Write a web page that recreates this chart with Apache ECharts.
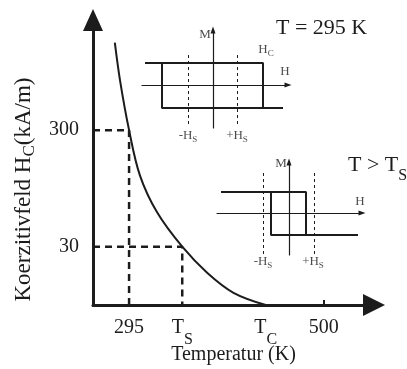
<!DOCTYPE html>
<html lang="de">
<head>
<meta charset="UTF-8">
<title>Koerzitivfeld</title>
<script src="https://cdn.jsdelivr.net/npm/echarts@6/dist/echarts.min.js"></script>
</head>
<body style="margin:0;background:#fff">
<div id="chart" style="width:407px;height:369px;"></div>
<script>
// main curve: temperature (K) vs. schematic level (1 = 30 kA/m, 3 = 300 kA/m)
const curveT = [280, 285.5, 295, 306.5, 324.5, 351, 377.5, 405, 439];
const curveH = [4.5, 3.85, 3.0, 2.22, 1.59, 1.0, 0.55, 0.21, 0];
const xTickValues = [295, 351, 439, 500];
const xTickLabels = ['295', '{t|T}{s|S}', '{t|T}{s|C}', '500'];
const yTickValues = [1, 3];
const yTickLabels = ['30', '300'];
const guide300 = [[257, 3], [295, 3], [295, 0]];
const guide30 = [[257, 1], [351, 1], [351, 0]];

// hysteresis loop at T = 295 K (H, M in arbitrary units)
const loop1H = [-68, 50, 50, 70, -51, -51];
const loop1M = [22, 22, -23, -23, -23, 22];
const hs1 = [-25, 24];
const hs1Span = [30, -42];
const labels1 = [[-8, 50, 'M'], [72, 13, 'H'], [53, 35, 'H{s|C}'], [-25, -51, '-H{s|S}'], [24, -51, '+H{s|S}']];

// hysteresis loop at T > T_S
const loop2H = [-68, 17, 17, 69, -18, -18];
const loop2M = [21, 21, -22, -22, -22, 21];
const hs2 = [-26, 25];
const hs2Span = [40, -42];
const labels2 = [[-8, 49, 'M'], [71, 11, 'H'], [-26, -49, '-H{s|S}'], [24, -49, '+H{s|S}']];

const ink = '#1c1c1c';
const serif = 'Liberation Serif';

function zip(a, b) { return a.map((v, i) => [v, b[i]]); }

function insetAxes(i, xr, yr) {
    const base = {
        gridIndex: i, type: 'value',
        axisLabel: { show: false }, axisTick: { show: false }, splitLine: { show: false },
        axisLine: { onZero: true, symbol: ['none', 'triangle'], symbolSize: [5, 7], lineStyle: { color: ink, width: 1.2 } }
    };
    return [
        Object.assign({ min: xr[0], max: xr[1] }, base),
        Object.assign({ min: yr[0], max: yr[1] }, base)
    ];
}

function loopSeries(i, h, m, hs, span) {
    return {
        type: 'line', xAxisIndex: i, yAxisIndex: i, data: zip(h, m), symbol: 'none',
        lineStyle: { color: ink, width: 2 },
        markLine: {
            silent: true, symbol: 'none', label: { show: false },
            lineStyle: { color: ink, width: 1, type: [3, 3] },
            data: hs.map(v => [{ coord: [v, span[0]] }, { coord: [v, span[1]] }])
        }
    };
}

function labelSeries(i, items) {
    return {
        type: 'scatter', xAxisIndex: i, yAxisIndex: i, symbolSize: 0, clip: false, silent: true,
        data: items.map(d => ({ value: [d[0], d[1]], name: d[2] })),
        label: {
            show: true, position: 'inside', formatter: p => p.name,
            color: ink, fontFamily: serif, fontSize: 13,
            rich: { s: { fontFamily: serif, fontSize: 9, verticalAlign: 'bottom', padding: [7, 0, 0, 0], color: ink } }
        }
    };
}

// subscript styles for the big labels
const bigRich = {
    t: { fontFamily: serif, fontSize: 20, color: ink, verticalAlign: 'top' },
    s: { fontFamily: serif, fontSize: 16, color: ink, verticalAlign: 'bottom', padding: [14, 0, 0, 0] }
};

const chart = echarts.init(document.getElementById('chart'));
const [ix1, iy1] = insetAxes(1, [-71, 75], [-43, 55]);
const [ix2, iy2] = insetAxes(2, [-72, 73], [-42, 51]);

chart.setOption({
    backgroundColor: '#fff',
    animation: false,
    title: [
        { text: 'T = 295 K', left: 271, top: 12, textStyle: { fontFamily: serif, fontSize: 22, fontWeight: 'normal', color: ink } },
        {
            text: '{t|T > T}{s|S}', left: 343, top: 149,
            textStyle: {
                fontFamily: serif, fontSize: 22, fontWeight: 'normal', color: ink,
                rich: {
                    t: { fontFamily: serif, fontSize: 22, color: ink, verticalAlign: 'top' },
                    s: { fontFamily: serif, fontSize: 16, color: ink, verticalAlign: 'bottom', padding: [14, 0, 0, 0] }
                }
            }
        }
    ],
    grid: [
        { left: 93, right: 33, top: 20, bottom: 64, outerBoundsMode: 'none' },
        { left: 142, top: 30, width: 146, height: 98, outerBoundsMode: 'none' },
        { left: 217, top: 162, width: 145, height: 93, outerBoundsMode: 'none' }
    ],
    xAxis: [
        {
            type: 'value', min: 257, max: 553,
            name: 'Temperatur (K)', nameLocation: 'middle', nameGap: 40, nameMoveOverlap: false,
            nameTextStyle: { fontFamily: serif, fontSize: 20, color: ink },
            axisLine: { symbol: ['none', 'triangle'], symbolSize: [22, 22], lineStyle: { color: ink, width: 3 } },
            axisTick: { show: true, customValues: [500], inside: true, length: 5, lineStyle: { color: ink, width: 2 } },
            axisLabel: {
                customValues: xTickValues, margin: 13,
                formatter: v => xTickLabels[xTickValues.indexOf(v)],
                fontFamily: serif, fontSize: 20, color: ink, verticalAlign: 'top',
                rich: bigRich
            },
            splitLine: { show: false }
        },
        ix1, ix2
    ],
    yAxis: [
        {
            type: 'value', min: 0, max: 4.89,
            name: 'Koerzitivfeld H{s|C}(kA/m)', nameLocation: 'middle', nameGap: 55, nameMoveOverlap: false,
            nameTextStyle: {
                fontFamily: serif, fontSize: 23, color: ink, padding: [0, 54, 0, 0],
                rich: { s: { fontFamily: serif, fontSize: 17, padding: [12, 0, 0, 0], color: ink } }
            },
            axisLine: { symbol: ['none', 'triangle'], symbolSize: [20, 22], lineStyle: { color: ink, width: 3 } },
            axisTick: { show: false },
            axisLabel: {
                customValues: yTickValues, margin: 14,
                formatter: v => yTickLabels[yTickValues.indexOf(v)],
                fontFamily: serif, fontSize: 20, color: ink
            },
            splitLine: { show: false }
        },
        iy1, iy2
    ],
    series: [
        {
            type: 'line', data: zip(curveT, curveH), smooth: 0.35,
            symbol: 'none', lineStyle: { color: ink, width: 2 }, z: 3
        },
        { type: 'line', data: guide300, symbol: 'none', lineStyle: { color: ink, width: 2.5, type: [7, 5] } },
        { type: 'line', data: guide30, symbol: 'none', lineStyle: { color: ink, width: 2.5, type: [7, 5] } },
        loopSeries(1, loop1H, loop1M, hs1, hs1Span),
        loopSeries(2, loop2H, loop2M, hs2, hs2Span),
        labelSeries(1, labels1),
        labelSeries(2, labels2)
    ]
});
</script>
</body>
</html>
